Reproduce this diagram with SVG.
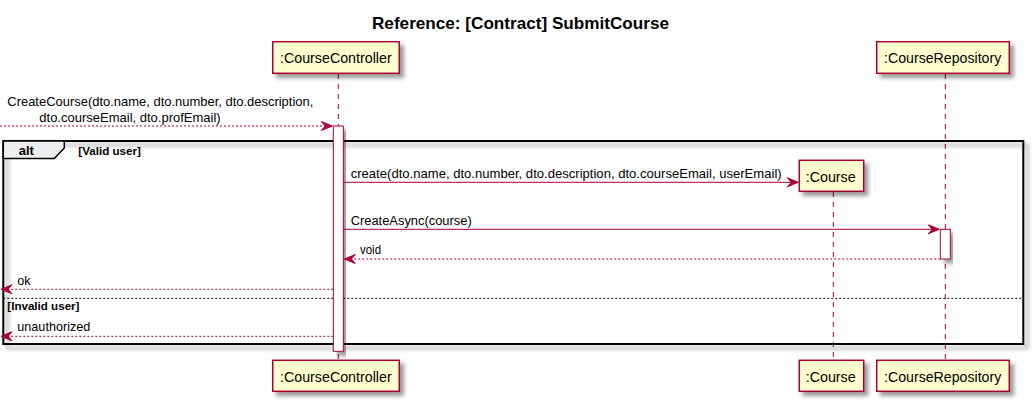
<svg xmlns="http://www.w3.org/2000/svg" width="1036" height="404" viewBox="0 0 1036 404">
<style>
  text { font-family: "Liberation Sans", Arial, sans-serif; fill: #000000; }
  .title { font-size: 17px; font-weight: bold; }
  .pname { font-size: 14.3px; }
  .msg { font-size: 12.6px; }
  .blabel { font-size: 11.6px; font-weight: bold; }
  .alt { font-size: 13px; font-weight: bold; }
  .pbox { fill: #FEFECE; stroke: #A80036; stroke-width: 1.5; }
  .life { stroke: #A80036; stroke-width: 1; stroke-dasharray: 5,5; fill: none; }
  .act { fill: #FFFFFF; stroke: #A80036; stroke-width: 1; }
  .call { stroke: #A80036; stroke-width: 1; fill: none; }
  .ret { stroke: #A80036; stroke-width: 1; stroke-dasharray: 2,2; fill: none; }
  .head { fill: #A80036; stroke: #A80036; stroke-width: 1; }
  .frame { fill: none; stroke: #000000; stroke-width: 2; }
  .tab { fill: #EEEEEE; stroke: #000000; stroke-width: 1.5; }
  .sep { stroke: #000000; stroke-width: 1; stroke-dasharray: 2,2; fill: none; }
</style>
<defs>
  <filter id="sh" x="-10%" y="-10%" width="130%" height="140%">
    <feGaussianBlur in="SourceAlpha" stdDeviation="2" result="b"/>
    <feOffset in="b" dx="4" dy="4" result="o"/>
    <feComponentTransfer in="o" result="s"><feFuncA type="linear" slope="0.4"/></feComponentTransfer>
    <feMerge><feMergeNode in="s"/><feMergeNode in="SourceGraphic"/></feMerge>
  </filter>
</defs>

<text class="title" x="372" y="29" textLength="297" lengthAdjust="spacingAndGlyphs">Reference: [Contract] SubmitCourse</text>

<g id="lifelines">
  <line class="life" x1="338.3" y1="74" x2="338.3" y2="360"/>
  <line class="life" x1="833.3" y1="192" x2="833.3" y2="360"/>
  <line class="life" x1="945.3" y1="74" x2="945.3" y2="360"/>
</g>

<g id="alt-frame">
  <rect class="frame" x="3.3" y="141" width="1020" height="203" filter="url(#sh)"/>
  <path class="tab" d="M3.3,141 L64.3,141 L64.3,148 L54.3,158.5 L3.3,158.5 Z"/>
  <text class="alt" x="18.7" y="155.3">alt</text>
  <text class="blabel" x="78.3" y="155.3">[Valid user]</text>
  <line class="sep" x1="3.3" y1="298.3" x2="1023.3" y2="298.3"/>
  <text class="blabel" x="7.3" y="310">[Invalid user]</text>
</g>

<g id="activations">
  <rect class="act" x="333.3" y="126" width="10" height="225.3" filter="url(#sh)"/>
  <rect class="act" x="940.3" y="229.3" width="10" height="29.7" filter="url(#sh)"/>
</g>

<g id="CourseController">
  <rect class="pbox" x="272.7" y="41.7" width="126.6" height="31.6" filter="url(#sh)"/>
  <text class="pname" x="280" y="63.3" textLength="111.7" lengthAdjust="spacingAndGlyphs">:CourseController</text>
  <rect class="pbox" x="272.7" y="360.3" width="126.6" height="31" filter="url(#sh)"/>
  <text class="pname" x="280" y="382" textLength="111.7" lengthAdjust="spacingAndGlyphs">:CourseController</text>
</g>

<g id="CourseRepository">
  <rect class="pbox" x="876.7" y="41.7" width="132.6" height="31.6" filter="url(#sh)"/>
  <text class="pname" x="884" y="63.3" textLength="117.3" lengthAdjust="spacingAndGlyphs">:CourseRepository</text>
  <rect class="pbox" x="876.7" y="360.3" width="132.6" height="31" filter="url(#sh)"/>
  <text class="pname" x="884" y="382" textLength="117.3" lengthAdjust="spacingAndGlyphs">:CourseRepository</text>
</g>

<g id="Course">
  <rect class="pbox" x="799.3" y="160.3" width="64.4" height="31" filter="url(#sh)"/>
  <text class="pname" x="805.7" y="181.7" textLength="50" lengthAdjust="spacingAndGlyphs">:Course</text>
  <rect class="pbox" x="799.3" y="360.3" width="64.4" height="31" filter="url(#sh)"/>
  <text class="pname" x="805.7" y="382" textLength="50" lengthAdjust="spacingAndGlyphs">:Course</text>
</g>

<g id="connectors">
  <!-- CreateCourse incoming -->
  <line class="ret" x1="0" y1="126" x2="331" y2="126"/>
  <polygon class="head" points="332.3,126 321.3,121.5 325.3,126 321.3,130.5"/>
  <text class="msg" x="7.3" y="106" textLength="306" lengthAdjust="spacingAndGlyphs">CreateCourse(dto.name, dto.number, dto.description,</text>
  <text class="msg" x="39.3" y="121.7" textLength="181.4" lengthAdjust="spacingAndGlyphs">dto.courseEmail, dto.profEmail)</text>

  <!-- create -->
  <line class="call" x1="343.3" y1="182.3" x2="797" y2="182.3"/>
  <polygon class="head" points="798.3,182.3 787.3,177.8 791.3,182.3 787.3,186.8"/>
  <text class="msg" x="350.7" y="178.3" textLength="431" lengthAdjust="spacingAndGlyphs">create(dto.name, dto.number, dto.description, dto.courseEmail, userEmail)</text>

  <!-- CreateAsync -->
  <line class="call" x1="343.3" y1="229.3" x2="938" y2="229.3"/>
  <polygon class="head" points="939.3,229.3 928.3,224.8 932.3,229.3 928.3,233.8"/>
  <text class="msg" x="350.7" y="224.7" textLength="121" lengthAdjust="spacingAndGlyphs">CreateAsync(course)</text>

  <!-- void -->
  <line class="ret" x1="940.3" y1="259" x2="345" y2="259"/>
  <polygon class="head" points="344.3,259 355.3,254.5 351.3,259 355.3,263.5"/>
  <text class="msg" x="360" y="254.3" textLength="21" lengthAdjust="spacingAndGlyphs">void</text>

  <!-- ok -->
  <line class="ret" x1="333.3" y1="289.3" x2="2" y2="289.3"/>
  <polygon class="head" points="1,289.3 12,284.8 8,289.3 12,293.8"/>
  <text class="msg" x="17.3" y="284.7">ok</text>

  <!-- unauthorized -->
  <line class="ret" x1="333.3" y1="336.3" x2="2" y2="336.3"/>
  <polygon class="head" points="1,336.3 12,331.8 8,336.3 12,340.8"/>
  <text class="msg" x="17.3" y="330.7" textLength="73" lengthAdjust="spacingAndGlyphs">unauthorized</text>
</g>
</svg>
